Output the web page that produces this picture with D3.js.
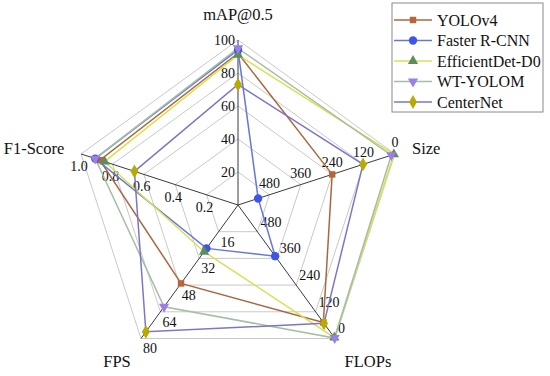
<!DOCTYPE html>
<html>
<head>
<meta charset="utf-8">
<script src="https://cdn.jsdelivr.net/npm/d3@7"></script>
<style>
  body { margin: 0; background: #fff; }
  svg { display: block; font-family: "Liberation Serif", "Times New Roman", serif; }
</style>
</head>
<body>
<div id="chart"></div>
<script>
// Radar chart of detector metrics

// Axis names (clockwise from top)
const axisNames = ['mAP@0.5', 'Size', 'FLOPs', 'FPS', 'F1-Score'];
const models = ['YOLOv4', 'Faster R-CNN', 'EfficientDet-D0', 'WT-YOLOM', 'CenterNet'];

// Series values per axis (same order as models)
const mapVals = [92, 94, 91, 95, 73];
const sizeVals = [240, 523, 4, 14, 122];
const flopsVals = [72, 370, 4, 2, 68];
const fpsVals = [47, 26, 28, 61, 76];
const f1Vals = [0.88, 0.91, 0.85, 0.91, 0.66];

// Tick labels per axis
const mapTicks = [20, 40, 60, 80, 100];
const sizeTicks = [480, 360, 240, 120, 0];
const flopsTicks = [480, 360, 240, 120, 0];
const fpsTicks = [16, 32, 48, 64, 80];
const f1Ticks = ['0.2', '0.4', '0.6', '0.8', '1.0'];

const lineColors = ['#a8683f', '#6478dc', '#d9e052', '#a3bfa3', '#7d76c6'];
const markerColors = ['#b9653c', '#3f55e8', '#5d8c5d', '#9a80e4', '#b8aa00'];
const markerShapes = [d3.symbolSquare, d3.symbolCircle, d3.symbolTriangle, d3.symbolTriangle, d3.symbolDiamond];

const W = 550, H = 376;
const cx = 238, cy = 205, R = 165;

const svg = d3.select('#chart').append('svg')
    .attr('width', W)
    .attr('height', H);

// one scale per axis
const scales = [
    d3.scaleLinear().domain([0, 100]).range([0, R]),
    d3.scaleLinear().domain([600, 0]).range([0, R]),
    d3.scaleLinear().domain([600, 0]).range([0, R]),
    d3.scaleLinear().domain([0, 80]).range([0, R]),
    d3.scaleLinear().domain([0, 1]).range([0, R])
];
const seriesVals = [mapVals, sizeVals, flopsVals, fpsVals, f1Vals];
const tickVals = [mapTicks, sizeTicks, flopsTicks, fpsTicks, f1Ticks];

const angle = i => (i * 72 - 90) * Math.PI / 180;
const pt = (i, r) => [cx + r * Math.cos(angle(i)), cy + r * Math.sin(angle(i))];

// grid rings
const levels = [1, 2, 3, 4, 5];
svg.append('g').selectAll('polygon')
    .data(levels)
    .enter()
    .append('polygon')
    .attr('points', l => axisNames.map((a, i) => pt(i, R * l / 5).join(',')).join(' '))
    .attr('fill', 'none')
    .attr('stroke', '#c9c9c9')
    .attr('stroke-width', 1);

// axis spokes
svg.append('g').selectAll('line')
    .data(axisNames)
    .enter()
    .append('line')
    .attr('x1', cx).attr('y1', cy)
    .attr('x2', (d, i) => pt(i, R)[0])
    .attr('y2', (d, i) => pt(i, R)[1])
    .attr('stroke', '#3a3a3a')
    .attr('stroke-width', 1);

// tick labels, offset from the ring point depending on axis
const tickOffsets = [
    { dx: -3, dy: 5, anchor: 'end' },
    { dx: 0, dy: -7, anchor: 'middle' },
    { dx: 3, dy: -5, anchor: 'start' },
    { dx: 2, dy: 15, anchor: 'start' },
    { dx: -2, dy: 17, anchor: 'middle' }
];
const tickG = svg.append('g').attr('font-size', 14).attr('fill', '#111');
tickVals.forEach((ticks, i) => {
    const s = scales[i];
    const o = tickOffsets[i];
    tickG.selectAll(null)
        .data(ticks)
        .enter()
        .append('text')
        .attr('x', d => pt(i, s(+d))[0] + o.dx)
        .attr('y', d => pt(i, s(+d))[1] + o.dy)
        .attr('text-anchor', o.anchor)
        .text(d => d);
});

// axis titles
const titlePos = [
    { x: 238, y: 20, anchor: 'middle' },
    { x: 412, y: 154, anchor: 'start' },
    { x: 368, y: 367, anchor: 'middle' },
    { x: 117, y: 367, anchor: 'middle' },
    { x: 34, y: 154, anchor: 'middle' }
];
svg.append('g').selectAll('text')
    .data(axisNames)
    .enter()
    .append('text')
    .attr('x', (d, i) => titlePos[i].x)
    .attr('y', (d, i) => titlePos[i].y)
    .attr('text-anchor', (d, i) => titlePos[i].anchor)
    .attr('font-size', 16.5)
    .attr('fill', '#111')
    .text(d => d);

// series
const series = models.map((m, k) => ({
    name: m,
    k: k,
    points: axisNames.map((a, i) => pt(i, scales[i](seriesVals[i][k])))
}));

const lineGen = d3.line().curve(d3.curveLinearClosed);

svg.append('g').selectAll('path')
    .data(series)
    .enter()
    .append('path')
    .attr('d', d => lineGen(d.points))
    .attr('fill', 'none')
    .attr('stroke', d => lineColors[d.k])
    .attr('stroke-width', 1.5);

const symbolSizes = [42, 55, 45, 45, 55];
function symbolPath(k) {
    return d3.symbol().type(markerShapes[k]).size(symbolSizes[k])();
}
function symbolRotate(k) {
    return k === 3 ? ' rotate(180)' : '';
}

series.forEach(s => {
    svg.append('g').selectAll('path')
        .data(s.points)
        .enter()
        .append('path')
        .attr('d', symbolPath(s.k))
        .attr('transform', p => `translate(${p[0]},${p[1]})${symbolRotate(s.k)}`)
        .attr('fill', markerColors[s.k]);
});

// legend
const legX = 392, legY = 3, legW = 151, legH = 109;
const legend = svg.append('g');
legend.append('rect')
    .attr('x', legX).attr('y', legY)
    .attr('width', legW).attr('height', legH)
    .attr('fill', '#fff')
    .attr('stroke', '#8a8a8a')
    .attr('stroke-width', 1);

const rowY = d3.scalePoint().domain(models).range([20, 102]);
const items = legend.selectAll('g.item')
    .data(models)
    .enter()
    .append('g')
    .attr('class', 'item')
    .attr('transform', d => `translate(0,${rowY(d)})`);

items.append('line')
    .attr('x1', 394).attr('x2', 432)
    .attr('y1', 0).attr('y2', 0)
    .attr('stroke', (d, k) => lineColors[k])
    .attr('stroke-width', 1.6);
items.append('path')
    .attr('d', (d, k) => symbolPath(k))
    .attr('transform', (d, k) => `translate(413,0)${symbolRotate(k)}`)
    .attr('fill', (d, k) => markerColors[k]);
items.append('text')
    .attr('x', 437)
    .attr('y', 5.5)
    .attr('font-size', 16)
    .attr('fill', '#111')
    .text(d => d);
</script>
</body>
</html>
